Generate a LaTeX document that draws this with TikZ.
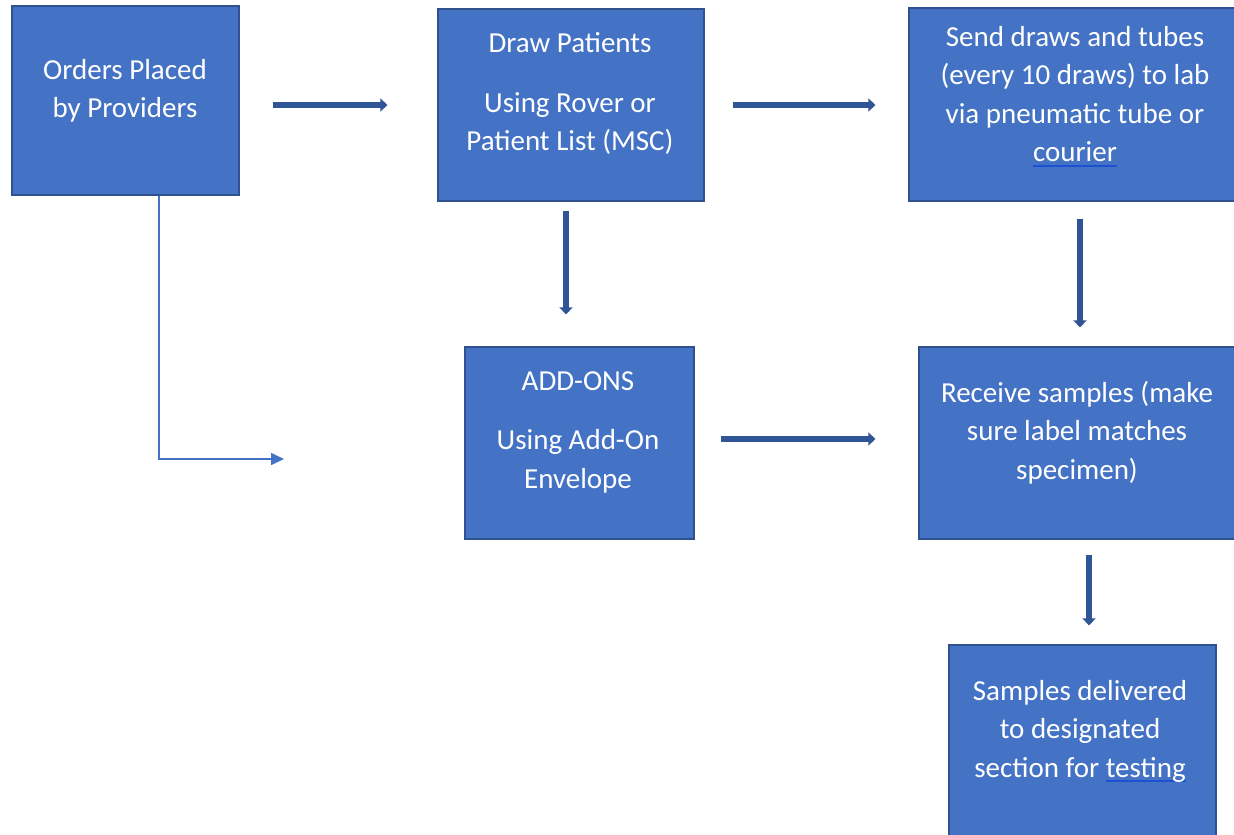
\documentclass[tikz,border=0pt]{standalone}
\usepackage{fontspec}
\setmainfont{Carlito}
\usetikzlibrary{arrows.meta}
\definecolor{boxfill}{HTML}{4472C4}
\definecolor{boxline}{HTML}{2F528F}
\definecolor{arrowfill}{HTML}{2F5597}
\definecolor{ulblue}{HTML}{1E50D2}
\newcommand\myul[1]{\leavevmode\setbox0\hbox{#1}\rlap{\textcolor{ulblue}{\rule[-5pt]{\wd0}{2pt}}}\box0}
\tikzset{
  flowbox/.style={draw=boxline, line width=1.2pt, fill=boxfill, rectangle, inner sep=0pt},
  boxtext/.style={text=white, align=center, font=\fontsize{29}{38.5}\selectfont, inner sep=0pt},
  blockarrow/.style={draw=arrowfill, line width=6pt, -{Triangle[length=7pt,width=13pt]}},
  thinarrow/.style={draw=boxfill, line width=1.6pt, -{Triangle[length=13pt,width=12pt]}},
}
\begin{document}
\begin{tikzpicture}[x=1pt,y=-1pt]
\useasboundingbox (0,0) rectangle (1234,835);
\clip (0,0) rectangle (1234,835);
% boxes
\node[flowbox, minimum width=227pt, minimum height=189pt] (b1) at (125.5,100.5) {};
\node[flowbox, minimum width=266pt, minimum height=192pt] (b2) at (571,105) {};
\node[flowbox, minimum width=328pt, minimum height=193pt] (b3) at (1073,104.5) {};
\node[flowbox, minimum width=229pt, minimum height=192pt] (b4) at (579.5,443) {};
\node[flowbox, minimum width=318pt, minimum height=192pt] (b5) at (1078,443) {};
\node[flowbox, minimum width=267pt, minimum height=220pt] (b6) at (1082.5,755) {};
% texts
\node[boxtext] (t1) at (125,91) {Orders Placed\\by Providers};
\node[boxtext] (t2) at (570,93.5) {Draw Patients\\[21pt]Using Rover or\\Patient List (MSC)};
\node[boxtext] (t3) at (1075,96.5) {Send draws and tubes\\(every 10 draws) to lab\\via pneumatic tube or\\\myul{courier}};
\node[boxtext] (t4) at (578,432) {ADD-ONS\\[21pt]Using Add-On\\Envelope};
\node[boxtext] (t5) at (1077,432.5) {Receive samples (make\\sure label matches\\specimen)};
\node[boxtext] (t6) at (1080,731) {Samples delivered\\to designated\\section for \myul{testing}};
% block arrows
\draw[blockarrow, shorten <=33pt, shorten >=50pt] (b1.east |- b2.west) -- (b2.west);
\draw[blockarrow, shorten <=28pt, shorten >=33pt] (b2.east) -- (b2.east -| b3.west);
\draw[blockarrow, shorten <=9pt, shorten >=32pt] ([xshift=-5pt]b2.south) -- ([xshift=-5pt]b2.south |- b4.north);
\draw[blockarrow, shorten <=17pt, shorten >=19pt] ([xshift=7pt]b3.south) -- ([xshift=7pt]b3.south |- b5.north);
\draw[blockarrow, shorten <=26pt, shorten >=43pt] ([yshift=4pt]b4.east) -- ([yshift=4pt]b4.east -| b5.west);
\draw[blockarrow, shorten <=15pt, shorten >=19pt] ([xshift=11pt]b5.south) -- ([xshift=11pt]b5.south |- b6.north);
% thin connector
\coordinate (tip) at (284,459);
\draw[thinarrow] ([xshift=33.5pt]b1.south) |- (tip);
\end{tikzpicture}
\end{document}
